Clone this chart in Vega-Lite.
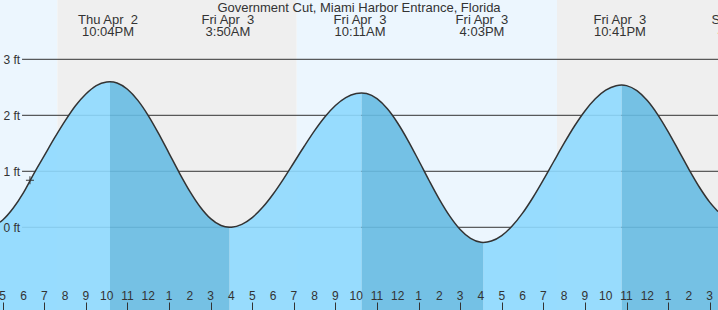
{
  "$schema": "https://vega.github.io/schema/vega-lite/v6.json",
  "width": 718,
  "height": 310,
  "padding": 0,
  "autosize": {"type": "none"},
  "background": "#ffffff",
  "config": {"view": {"stroke": null}, "font": "Liberation Sans"},
  "datasets": {
    "bands": [
      {"s": 16.87, "e": 19.63, "k": "day"},
      {"s": 19.63, "e": 31.14, "k": "night"},
      {"s": 31.14, "e": 43.66, "k": "day"},
      {"s": 43.66, "e": 51.4, "k": "night"}
    ],
    "grid": [{"g": 0}, {"g": 1}, {"g": 2}, {"g": 3}],
    "hours": [
      {"hr": 17, "lab": "5"}, {"hr": 18, "lab": "6"}, {"hr": 19, "lab": "7"}, {"hr": 20, "lab": "8"},
      {"hr": 21, "lab": "9"}, {"hr": 22, "lab": "10"}, {"hr": 23, "lab": "11"}, {"hr": 24, "lab": "12"},
      {"hr": 25, "lab": "1"}, {"hr": 26, "lab": "2"}, {"hr": 27, "lab": "3"}, {"hr": 28, "lab": "4"},
      {"hr": 29, "lab": "5"}, {"hr": 30, "lab": "6"}, {"hr": 31, "lab": "7"}, {"hr": 32, "lab": "8"},
      {"hr": 33, "lab": "9"}, {"hr": 34, "lab": "10"}, {"hr": 35, "lab": "11"}, {"hr": 36, "lab": "12"},
      {"hr": 37, "lab": "1"}, {"hr": 38, "lab": "2"}, {"hr": 39, "lab": "3"}, {"hr": 40, "lab": "4"},
      {"hr": 41, "lab": "5"}, {"hr": 42, "lab": "6"}, {"hr": 43, "lab": "7"}, {"hr": 44, "lab": "8"},
      {"hr": 45, "lab": "9"}, {"hr": 46, "lab": "10"}, {"hr": 47, "lab": "11"}, {"hr": 48, "lab": "12"},
      {"hr": 49, "lab": "1"}, {"hr": 50, "lab": "2"}, {"hr": 51, "lab": "3"}
    ],
    "tide": [
      {"h": 16.87, "ft": 0.09, "flood": "A"},
      {"h": 17.0, "ft": 0.13, "flood": "A"},
      {"h": 17.5, "ft": 0.34, "flood": "A"},
      {"h": 18.0, "ft": 0.62, "flood": "A"},
      {"h": 18.5, "ft": 0.96, "flood": "A"},
      {"h": 19.0, "ft": 1.28, "flood": "A"},
      {"h": 19.5, "ft": 1.6, "flood": "A"},
      {"h": 20.0, "ft": 1.9, "flood": "A"},
      {"h": 20.5, "ft": 2.17, "flood": "A"},
      {"h": 21.0, "ft": 2.38, "flood": "A"},
      {"h": 21.5, "ft": 2.53, "flood": "A"},
      {"h": 22.0, "ft": 2.595, "flood": "A"},
      {"h": 22.16, "ft": 2.6, "flood": "A", "ebb": "B"},
      {"h": 22.5, "ft": 2.578, "ebb": "B"},
      {"h": 23.0, "ft": 2.465, "ebb": "B"},
      {"h": 23.5, "ft": 2.266, "ebb": "B"},
      {"h": 24.0, "ft": 1.995, "ebb": "B"},
      {"h": 24.5, "ft": 1.672, "ebb": "B"},
      {"h": 25.0, "ft": 1.321, "ebb": "B"},
      {"h": 25.5, "ft": 0.969, "ebb": "B"},
      {"h": 26.0, "ft": 0.642, "ebb": "B"},
      {"h": 26.5, "ft": 0.363, "ebb": "B"},
      {"h": 27.0, "ft": 0.154, "ebb": "B"},
      {"h": 27.5, "ft": 0.031, "ebb": "B"},
      {"h": 27.9, "ft": 0.0, "ebb": "B", "flood": "C"},
      {"h": 28.0, "ft": 0.001, "flood": "C"},
      {"h": 28.5, "ft": 0.052, "flood": "C"},
      {"h": 29.0, "ft": 0.173, "flood": "C"},
      {"h": 29.5, "ft": 0.356, "flood": "C"},
      {"h": 30.0, "ft": 0.59, "flood": "C"},
      {"h": 30.5, "ft": 0.861, "flood": "C"},
      {"h": 31.0, "ft": 1.153, "flood": "C"},
      {"h": 31.5, "ft": 1.447, "flood": "C"},
      {"h": 32.0, "ft": 1.727, "flood": "C"},
      {"h": 32.5, "ft": 1.975, "flood": "C"},
      {"h": 33.0, "ft": 2.175, "flood": "C"},
      {"h": 33.5, "ft": 2.316, "flood": "C"},
      {"h": 34.0, "ft": 2.39, "flood": "C"},
      {"h": 34.26, "ft": 2.4, "flood": "C", "ebb": "D"},
      {"h": 34.5, "ft": 2.389, "ebb": "D"},
      {"h": 35.0, "ft": 2.296, "ebb": "D"},
      {"h": 35.5, "ft": 2.115, "ebb": "D"},
      {"h": 36.0, "ft": 1.858, "ebb": "D"},
      {"h": 36.5, "ft": 1.545, "ebb": "D"},
      {"h": 37.0, "ft": 1.197, "ebb": "D"},
      {"h": 37.5, "ft": 0.84, "ebb": "D"},
      {"h": 38.0, "ft": 0.499, "ebb": "D"},
      {"h": 38.5, "ft": 0.199, "ebb": "D"},
      {"h": 39.0, "ft": -0.04, "ebb": "D"},
      {"h": 39.5, "ft": -0.199, "ebb": "D"},
      {"h": 40.0, "ft": -0.268, "ebb": "D"},
      {"h": 40.11, "ft": -0.27, "ebb": "D", "flood": "E"},
      {"h": 40.5, "ft": -0.246, "flood": "E"},
      {"h": 41.0, "ft": -0.148, "flood": "E"},
      {"h": 41.5, "ft": 0.022, "flood": "E"},
      {"h": 42.0, "ft": 0.252, "flood": "E"},
      {"h": 42.5, "ft": 0.532, "flood": "E"},
      {"h": 43.0, "ft": 0.846, "flood": "E"},
      {"h": 43.5, "ft": 1.175, "flood": "E"},
      {"h": 44.0, "ft": 1.502, "flood": "E"},
      {"h": 44.5, "ft": 1.809, "flood": "E"},
      {"h": 45.0, "ft": 2.078, "flood": "E"},
      {"h": 45.5, "ft": 2.295, "flood": "E"},
      {"h": 46.0, "ft": 2.448, "flood": "E"},
      {"h": 46.5, "ft": 2.528, "flood": "E"},
      {"h": 46.77, "ft": 2.54, "flood": "E", "ebb": "F"},
      {"h": 47.0, "ft": 2.53, "ebb": "F"},
      {"h": 47.5, "ft": 2.44, "ebb": "F"},
      {"h": 48.0, "ft": 2.263, "ebb": "F"},
      {"h": 48.5, "ft": 2.013, "ebb": "F"},
      {"h": 49.0, "ft": 1.709, "ebb": "F"},
      {"h": 49.5, "ft": 1.374, "ebb": "F"},
      {"h": 50.0, "ft": 1.036, "ebb": "F"},
      {"h": 50.5, "ft": 0.72, "ebb": "F"},
      {"h": 51.0, "ft": 0.45, "ebb": "F"},
      {"h": 51.4, "ft": 0.282, "ebb": "F"}
    ],
    "events": [
      {"t": 22.067, "lab": ["Thu Apr\u00a0 2", "10:04PM"]},
      {"t": 27.833, "lab": ["Fri Apr\u00a0 3", "3:50AM"]},
      {"t": 34.183, "lab": ["Fri Apr\u00a0 3", "10:11AM"]},
      {"t": 40.05, "lab": ["Fri Apr\u00a0 3", "4:03PM"]},
      {"t": 46.683, "lab": ["Fri Apr\u00a0 3", "10:41PM"]},
      {"t": 52.46, "lab": ["Sat Apr\u00a0 4", "4:28AM"]}
    ],
    "now": [{"h": 18.31, "ft": 0.84}],
    "heading": [{"t": 34.135, "name": "Government Cut, Miami Harbor Entrance, Florida"}]
  },
  "layer": [
    {
      "data": {"name": "bands"},
      "mark": {"type": "rect"},
      "encoding": {
        "x": {"field": "s", "type": "quantitative", "title": null,
          "scale": {"domain": [16.87, 51.4], "nice": false, "zero": false},
          "axis": {
            "values": [17,18,19,20,21,22,23,24,25,26,27,28,29,30,31,32,33,34,35,36,37,38,39,40,41,42,43,44,45,46,47,48,49,50,51],
            "labels": false,
            "grid": false, "domain": false, "tickSize": -8, "tickColor": "#333333",
            "tickWidth": {"condition": {"test": "datum.value % 24 == 0", "value": 3}, "value": 1},
            "title": null, "zindex": 1
          }},
        "x2": {"field": "e"},
        "color": {"field": "k", "type": "nominal", "scale": {"domain": ["day", "night"], "range": ["#ecf6fe", "#efefef"]}, "legend": null}
      }
    },
    {
      "data": {"name": "grid"},
      "mark": {"type": "rule", "color": "#333333", "strokeWidth": 1},
      "encoding": {
        "y": {"field": "g", "type": "quantitative", "title": null,
          "scale": {"domain": [-1.477, 4.059], "nice": false, "zero": false},
          "axis": {"values": [0, 1, 2, 3], "labelExpr": "datum.value + ' ft'", "grid": false, "domain": false,
            "ticks": false, "tickSize": 0, "labelAlign": "left", "labelPadding": -3, "labelBaseline": "middle",
            "labelFontSize": 12, "labelColor": "#333333", "labelFont": "Liberation Sans", "title": null, "zindex": 1}},
        "x": {"datum": 17.93},
        "x2": {"datum": 51.4}
      }
    },
    {
      "data": {"name": "tide"},
      "transform": [{"filter": "isValid(datum.flood)"}],
      "mark": {"type": "area", "interpolate": "monotone", "color": "#8ed9fe", "fillOpacity": 0.9},
      "encoding": {
        "x": {"field": "h", "type": "quantitative", "title": null},
        "y": {"field": "ft", "type": "quantitative", "title": null},
        "y2": {"datum": -1.477},
        "detail": {"field": "flood"}
      }
    },
    {
      "data": {"name": "tide"},
      "transform": [{"filter": "isValid(datum.ebb)"}],
      "mark": {"type": "area", "interpolate": "monotone", "color": "#67bbe2", "fillOpacity": 0.9},
      "encoding": {
        "x": {"field": "h", "type": "quantitative", "title": null},
        "y": {"field": "ft", "type": "quantitative", "title": null},
        "y2": {"datum": -1.477},
        "detail": {"field": "ebb"}
      }
    },
    {
      "data": {"name": "tide"},
      "mark": {"type": "line", "interpolate": "monotone", "color": "#333333", "strokeWidth": 1.5},
      "encoding": {
        "x": {"field": "h", "type": "quantitative", "title": null},
        "y": {"field": "ft", "type": "quantitative", "title": null}
      }
    },
    {
      "data": {"name": "now"},
      "mark": {"type": "point", "shape": "M-1,0H1M0,-1V1", "size": 64, "stroke": "#333333", "strokeWidth": 1, "filled": false, "opacity": 1},
      "encoding": {
        "x": {"field": "h", "type": "quantitative", "title": null},
        "y": {"field": "ft", "type": "quantitative", "title": null}
      }
    },
    {
      "data": {"name": "hours"},
      "mark": {"type": "text", "align": "center", "baseline": "alphabetic", "fontSize": 12, "color": "#333333", "font": "Liberation Sans"},
      "encoding": {
        "x": {"field": "hr", "type": "quantitative", "title": null},
        "y": {"datum": -1.29},
        "text": {"field": "lab", "type": "nominal"}
      }
    },
    {
      "data": {"name": "events"},
      "mark": {"type": "text", "align": "center", "baseline": "alphabetic", "fontSize": 13, "lineHeight": 12, "color": "#333333", "font": "Liberation Sans"},
      "encoding": {
        "x": {"field": "t", "type": "quantitative", "title": null},
        "y": {"datum": 3.63},
        "text": {"field": "lab", "type": "nominal"}
      }
    },
    {
      "data": {"name": "heading"},
      "mark": {"type": "text", "align": "center", "baseline": "alphabetic", "fontSize": 13, "color": "#333333", "font": "Liberation Sans"},
      "encoding": {
        "x": {"field": "t", "type": "quantitative", "title": null},
        "y": {"datum": 3.85},
        "text": {"field": "name", "type": "nominal"}
      }
    }
  ]
}
